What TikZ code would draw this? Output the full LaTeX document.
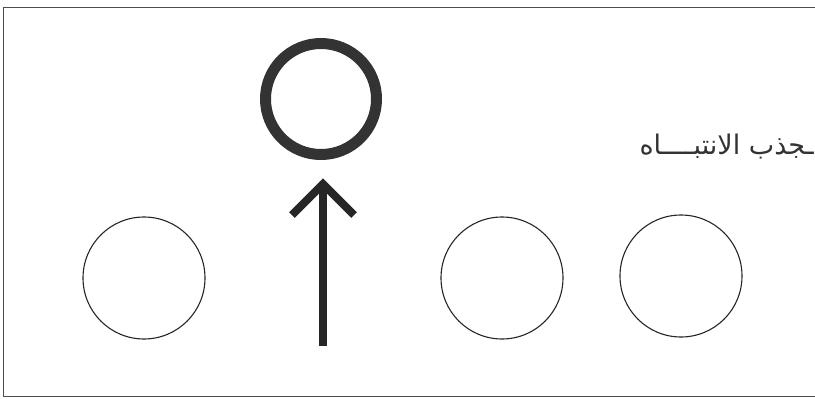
\documentclass[tikz,border=0pt]{standalone}
\usepackage{fontspec}
\newfontfamily\arabicfont[Script=Arabic]{DejaVu Sans}
\TeXXeTstate=1
\begin{document}
\begin{tikzpicture}[x=1pt,y=-1pt,
  plain/.style={circle,draw=black!85,line width=1.1pt,minimum size=122pt,inner sep=0pt},
  ring/.style={circle,draw=black!80,line width=11pt,minimum size=111pt,inner sep=0pt},
  frame/.style={draw=black!70,line width=1pt},
  bigarrow/.style={draw=black!85,line width=8pt}]
\useasboundingbox (0,0) rectangle (815,399);
\draw[frame] (815,7) -- (3,7) -- (3,396) -- (815,396);
\node[plain] (c1) at (144,278) {};
\node[plain] (c3) at (502,278) {};
\node[plain] (c4) at (681,276) {};
\node[ring] (top) at (321,99) {};
\coordinate (tail) at (323,346);
\coordinate (tip) at (323,184);
\coordinate (armL) at (292,215);
\coordinate (armR) at (354,215);
\draw[bigarrow] (tail) -- (tip);
\draw[bigarrow,line join=miter] (armL) -- (tip) -- (armR);
\node[anchor=base east,inner sep=0pt,font=\fontsize{27}{30}\selectfont\arabicfont,text=black!80] (lbl) at (814,154) {\beginR ـجذب الانتبــــاه\endR};
\end{tikzpicture}
\end{document}
